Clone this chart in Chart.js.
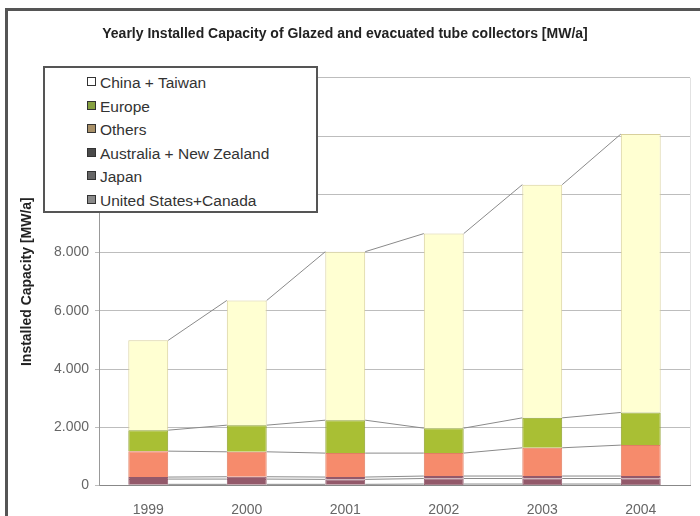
<!DOCTYPE html>
<html>
<head>
<meta charset="utf-8">
<script src="https://cdn.jsdelivr.net/npm/chart.js@4/dist/chart.umd.min.js"></script>
<style>
  html, body { margin: 0; padding: 0; background: #fff; }
  #wrap { position: relative; width: 700px; height: 516px; }
  #legend {
    position: absolute; left: 43px; top: 66px; width: 275px; height: 147px;
    background: #fff; border: 2px solid #555; box-sizing: border-box;
    font-family: "Liberation Sans", Arial, sans-serif; font-size: 15.5px; color: #333;
    padding-top: 4px;
  }
  #legend .item { height: 23.5px; line-height: 22px; padding-left: 42px; white-space: nowrap; }
  #legend .box {
    display: inline-block; width: 7px; height: 7px; border: 1px solid #333;
    margin-right: 4px; vertical-align: 2px;
  }
</style>
</head>
<body>
<div id="wrap">
  <canvas id="chart" width="700" height="516"></canvas>
  <div id="legend"></div>
</div>
<script>
const years = ['1999', '2000', '2001', '2002', '2003', '2004'];

// MW/a per region, stacked bottom to top
const usCanada  = [40, 40, 40, 50, 50, 50];
const japan     = [180, 180, 170, 190, 190, 190];
const australia = [70, 80, 80, 85, 85, 85];
const others    = [890, 857, 822, 788, 970, 1062];
const europe    = [720, 915, 1131, 857, 1028, 1121];
const china     = [3084, 4282, 5786, 6680, 8007, 9558];

const yTicks = [0, 2000, 4000, 6000, 8000, 10000, 12000, 14000];

function fmt(v) {
  return String(v).replace(/\B(?=(\d{3})+(?!\d))/g, '.');
}

// Excel style series lines between stacked segments
const seriesLines = {
  id: 'seriesLines',
  afterDatasetsDraw(chart) {
    const ctx = chart.ctx;
    ctx.save();
    ctx.strokeStyle = '#8a8a8a';
    ctx.lineWidth = 1;
    chart.data.datasets.forEach((ds, i) => {
      const bars = chart.getDatasetMeta(i).data;
      for (let j = 0; j < bars.length - 1; j++) {
        const a = bars[j], b = bars[j + 1];
        ctx.beginPath();
        ctx.moveTo(a.x + a.width / 2, a.y);
        ctx.lineTo(b.x - b.width / 2, b.y);
        ctx.stroke();
      }
    });
    ctx.restore();
  },
  beforeDraw(chart) {
    const ctx = chart.ctx, ca = chart.chartArea;
    ctx.save();
    ctx.strokeStyle = '#e2e2e2';
    ctx.lineWidth = 1;
    ctx.beginPath();
    ctx.moveTo(ca.right + 0.5, ca.top);
    ctx.lineTo(ca.right + 0.5, ca.bottom);
    ctx.stroke();
    ctx.restore();
  },
  afterDraw(chart) {
    // outer frame
    const ctx = chart.ctx;
    ctx.save();
    ctx.strokeStyle = '#555';
    ctx.lineWidth = 3;
    ctx.beginPath();
    ctx.moveTo(6.5, 520);
    ctx.lineTo(6.5, 9.5);
    ctx.lineTo(705, 9.5);
    ctx.stroke();
    ctx.restore();
  }
};

const chart = new Chart(document.getElementById('chart'), {
  type: 'bar',
  data: {
    labels: years,
    datasets: [
      { label: 'United States+Canada', data: usCanada, backgroundColor: '#8e5566', borderColor: '#8e5566', legendColor: '#8a8a8a' },
      { label: 'Japan', data: japan, backgroundColor: '#93596a', borderColor: '#93596a', legendColor: '#666' },
      { label: 'Australia + New Zealand', data: australia, backgroundColor: '#93596a', borderColor: '#93596a', legendColor: '#4a4a4a' },
      { label: 'Others', data: others, backgroundColor: '#f68b6c', borderColor: '#e07e62', legendColor: '#a89068' },
      { label: 'Europe', data: europe, backgroundColor: '#a9bf34', borderColor: '#8fa02e', legendColor: '#86a040' },
      { label: 'China + Taiwan', data: china, backgroundColor: '#ffffd2', borderColor: '#d8d09c', legendColor: '#fff' }
    ].map(d => Object.assign(d, { borderWidth: 1, barPercentage: 0.405, categoryPercentage: 1 }))
  },
  options: {
    responsive: false,
    animation: false,
    layout: { padding: { left: 0, right: 10, top: 0, bottom: 0 } },
    scales: {
      x: {
        stacked: true,
        grid: { display: false },
        border: { display: true, color: '#888' },
        ticks: { color: '#666', padding: 8, font: { family: 'Liberation Sans', size: 14 } },
        afterFit(scale) { scale.height = 30.5; }
      },
      y: {
        stacked: true,
        min: 0,
        max: 14000,
        afterBuildTicks(scale) { scale.ticks = yTicks.map(v => ({ value: v })); },
        grid: { color: '#bdbdbd', tickLength: 4 },
        border: { display: true, color: '#999' },
        ticks: {
          color: '#666', padding: 6,
          font: { family: 'Liberation Sans', size: 14 },
          callback: v => fmt(v)
        },
        title: {
          display: true,
          text: 'Installed Capacity [MW/a]',
          color: '#222',
          padding: { top: 19, bottom: 0 },
          font: { family: 'Liberation Sans', size: 14, weight: 'bold' }
        },
        afterFit(scale) { scale.width = 99; }
      }
    },
    plugins: {
      legend: { display: false },
      tooltip: { enabled: false },
      title: {
        display: true,
        text: 'Yearly Installed Capacity of Glazed and evacuated tube collectors [MW/a]',
        color: '#222',
        padding: { top: 26, bottom: 35 },
        font: { family: 'Liberation Sans', size: 14, weight: 'bold' }
      }
    }
  },
  plugins: [seriesLines]
});

// legend box, top series first
const legend = document.getElementById('legend');
chart.data.datasets.slice().reverse().forEach(ds => {
  const item = document.createElement('div');
  item.className = 'item';
  const box = document.createElement('span');
  box.className = 'box';
  box.style.background = ds.legendColor;
  item.appendChild(box);
  item.appendChild(document.createTextNode(ds.label));
  legend.appendChild(item);
});
</script>
</body>
</html>
